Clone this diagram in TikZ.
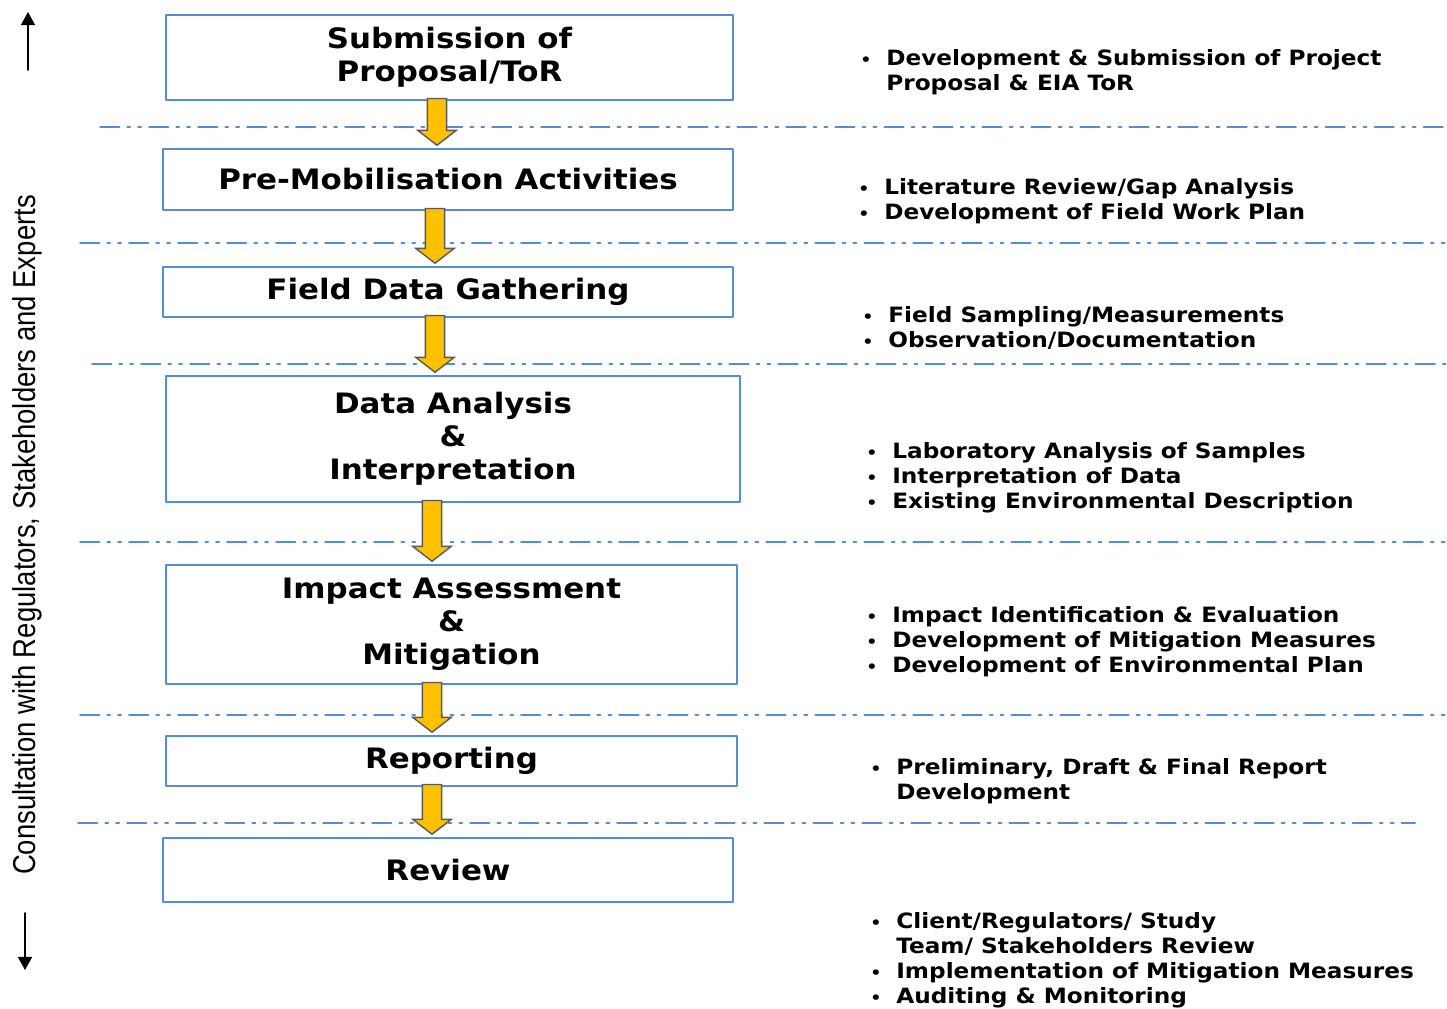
\documentclass[tikz,border=0pt]{standalone}
\usepackage{fontspec}
\setmainfont{DejaVu Sans}[FakeStretch=1.1]
\newfontfamily\sidefont{Liberation Sans}
\usetikzlibrary{calc}
\usetikzlibrary{arrows.meta}
\definecolor{boxblue}{RGB}{84,141,212}
\definecolor{arrowyellow}{RGB}{255,192,0}
\tikzset{
  box/.style={draw=boxblue, line width=1.3pt, inner sep=0pt, align=center,
    font=\fontsize{16}{18.7}\selectfont\bfseries},
  note/.style={anchor=north west, inner sep=0pt, align=left,
    font=\fontsize{12}{14.2}\selectfont\bfseries},
  sepline/.style={draw=boxblue, line width=1.1pt,
    dash pattern=on 11pt off 4.5pt on 1.7pt off 4.5pt on 1.7pt off 4.5pt},
  flowarrow/.style={fill=arrowyellow, draw=black!65, line width=0.8pt, line join=miter},
}
\newcommand{\itm}{\makebox[0.52cm][l]{\scalebox{0.75}{•}}}
\newcommand{\cont}{\hspace*{0.52cm}}
\newcommand{\flowarrow}[3]{%
  \path[flowarrow] let \p1=(#1.south), \p2=(#2.north), \p3=(#3,0) in
    (\x3-5.5pt,\y1+1.5pt) -- (\x3+5.5pt,\y1+1.5pt) -- (\x3+5.5pt,\y2+10pt)
    -- (\x3+11pt,\y2+10pt) -- (\x3,\y2+1.5pt) -- (\x3-11pt,\y2+10pt)
    -- (\x3-5.5pt,\y2+10pt) -- cycle;}

\begin{document}
\begin{tikzpicture}[x=0.02cm, y=-0.02cm, line cap=round, line join=round,
    >={Triangle[length=7.5pt,width=8pt]}]
  \useasboundingbox (0,0) rectangle (1447,1008);
  %--- Boxes
    \node[box, minimum width=11.34cm, minimum height=1.70cm] (SP) at (449.5,57.5) {Submission of\\Proposal/ToR};
    \node[box, minimum width=11.40cm, minimum height=1.22cm] (PM) at (448,179.5) {Pre-Mobilisation Activities};
    \node[box, minimum width=11.40cm, minimum height=1.00cm] (FD) at (448,292) {Field Data Gathering};
    \node[box, minimum width=11.48cm, minimum height=2.52cm] (DA) at (453,439) {Data Analysis\\\&\\Interpretation};
    \node[box, minimum width=11.42cm, minimum height=2.38cm] (IA) at (451.5,624.5) {Impact Assessment\\\&\\Mitigation};
    \node[box, minimum width=11.42cm, minimum height=1.00cm] (RP) at (451.5,761) {Reporting};
    \node[box, minimum width=11.40cm, minimum height=1.28cm] (RV) at (448,870) {Review};
  %--- Separators
    \draw[sepline] (100,127) -- (1447,127);
    \draw[sepline] (80,243) -- (1447,243);
    \draw[sepline] (92,364) -- (1447,364);
    \draw[sepline] (80,542) -- (1447,542);
    \draw[sepline] (80,715) -- (1447,715);
    \draw[sepline] (78,823) -- (1415,823);
  %--- Arrows
    \flowarrow{SP}{PM}{437}
    \flowarrow{PM}{FD}{435}
    \flowarrow{FD}{DA}{435}
    \flowarrow{DA}{IA}{432}
    \flowarrow{IA}{RP}{432}
    \flowarrow{RP}{RV}{432}
  %--- Notes
    \node[note] (N1) at (860,49) {\itm Development \& Submission of Project\\\cont Proposal \& EIA ToR};
    \node[note] (N2) at (858,178) {\itm Literature Review/Gap Analysis\\\itm Development of Field Work Plan};
    \node[note] (N3) at (862,306) {\itm Field Sampling/Measurements\\\itm Observation/Documentation};
    \node[note] (N4) at (866,442) {\itm Laboratory Analysis of Samples\\\itm Interpretation of Data\\\itm Existing Environmental Description};
    \node[note] (N5) at (866,606) {\itm Impact Identification \& Evaluation\\\itm Development of Mitigation Measures\\\itm Development of Environmental Plan};
    \node[note] (N6) at (870,758) {\itm Preliminary, Draft \& Final Report\\\cont Development};
    \node[note] (N7) at (870,912) {\itm Client/Regulators/ Study\\\cont Team/ Stakeholders Review\\\itm Implementation of Mitigation Measures\\\itm Auditing \& Monitoring};
  %--- Consultation
    \node[rotate=90, inner sep=0pt, font=\sidefont\fontsize{18}{20}\selectfont] (CS) at (27,535)
      {\resizebox{13.6cm}{\height}{Consultation with Regulators, Stakeholders and Experts}};
    \coordinate (UPa) at (28,70);
    \coordinate (UPb) at (28,12);
    \coordinate (DNa) at (25,913);
    \coordinate (DNb) at (25,970);
    \draw[->, line width=1.1pt] (UPa) -- (UPb);
    \draw[->, line width=1.1pt] (DNa) -- (DNb);
  %---
\end{tikzpicture}
\end{document}
